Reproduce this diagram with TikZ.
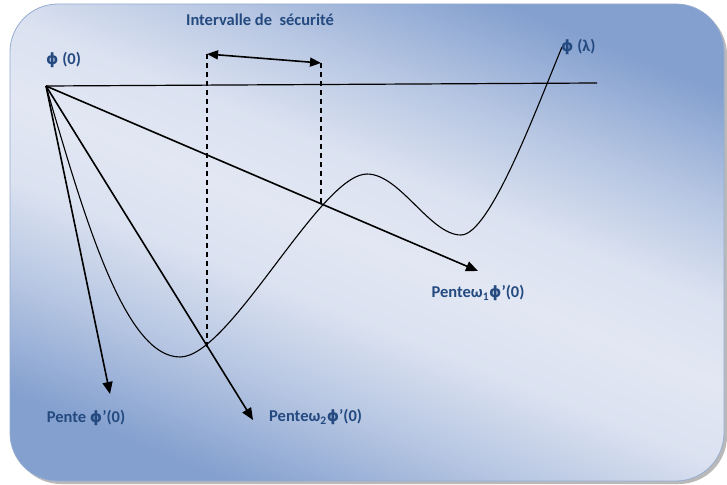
\documentclass[tikz,border=0pt]{standalone}
\usepackage{fontspec}
\setmainfont{Carlito}
\newfontfamily\greekfont{DejaVu Sans}
\usetikzlibrary{arrows.meta,positioning}
\definecolor{labelblue}{RGB}{36,74,128}
\definecolor{panelblue}{RGB}{132,160,207}
\definecolor{panellight}{RGB}{226,231,243}
\definecolor{panelrim}{RGB}{150,172,208}
\pgfdeclareverticalshading{panelshade}{100bp}{color(0bp)=(panelblue); color(25bp)=(panelblue);
  color(35bp)=(panellight!55!panelblue); color(43bp)=(panellight!92!panelblue); color(50bp)=(panellight);
  color(57bp)=(panellight!92!panelblue); color(65bp)=(panellight!55!panelblue);
  color(75bp)=(panelblue); color(100bp)=(panelblue)}
\newcommand{\lphi}{{\greekfont\fontsize{15.5}{18}\selectfont ϕ}}

\begin{document}
\begin{tikzpicture}[x=1pt, y=-1pt,
    node distance=14pt,
    lbl/.style={text=labelblue, font=\fontsize{16.5}{19}\selectfont\bfseries, inner sep=0pt},
    slope/.style={-{Triangle[length=12pt,width=10pt]}, line width=1.6pt},
    bound/.style={line width=1.1pt, dash pattern=on 5pt off 4pt},
    gap/.style={{Triangle[length=11pt,width=9pt]}-{Triangle[length=11pt,width=9pt]}, line width=1.6pt},
    curve/.style={line width=1.1pt}
]
\useasboundingbox (0,0) rectangle (727,484);
% panel
\fill[gray!55, rounded corners=48pt] (13,7) rectangle (727,484);
\shade[shading=panelshade, shading angle=-22,
       rounded corners=48pt, draw=panelrim, line width=0.8pt] (10,4) rectangle (724,481);

\coordinate (O) at (46,86);
\coordinate (hend) at (597,83);
\coordinate (tip0) at (110,394);
\coordinate (tip1) at (478,271);
\coordinate (tip2) at (253,420);
\coordinate (lo) at (207,54);
\coordinate (ro) at (321,63);
\coordinate (lb) at (207,347);
\coordinate (rb) at (321,204);

\draw[line width=1.2pt] (O) -- (hend);
\draw[slope] (O) -- (tip0);
\draw[slope] (O) -- (tip1);
\draw[slope] (O) -- (tip2);

% phi(lambda)
\draw[curve] (O) .. controls (85,220) and (125,357) .. (180,357)
  .. controls (230,357) and (320,174) .. (367,174)
  .. controls (400,174) and (430,235) .. (461,235)
  .. controls (490,235) and (537,107) .. (562,47);

% intervalle
\draw[bound] (lo) -- (lb);
\draw[bound] (ro) -- (rb);
\draw[gap] (lo) -- (ro);

\node[lbl] (titre) at (260,20) {Intervalle de\ \ sécurité};
\node[lbl, anchor=west] (phi0) at (46,60) {\lphi{} (0)};
\node[lbl, anchor=west] (philam) at (561,47) {\lphi{} (λ)};
\node[lbl, below=of tip1] (pente1) {Penteω\textsubscript{1}\lphi’(0)};
\node[lbl, right=16pt of tip2, yshift=3pt] (pente2) {Penteω\textsubscript{2}\lphi’(0)};
\node[lbl, below=16pt of tip0, xshift=-24pt] (pente0) {Pente \lphi’(0)};
\end{tikzpicture}
\end{document}
